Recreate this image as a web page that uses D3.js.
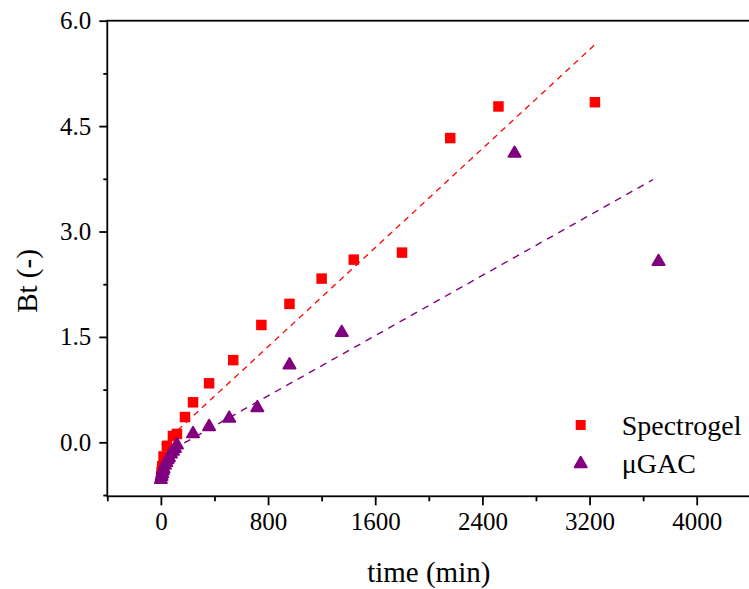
<!DOCTYPE html>
<html>
<head>
<meta charset="utf-8">
<script src="https://cdn.jsdelivr.net/npm/d3@7"></script>
<style>
  body { margin: 0; background: #fff; }
  svg { display: block; font-family: "Liberation Serif", "Times New Roman", serif; }
</style>
</head>
<body>
<div id="chart"></div>
<script>
// values
var spectroTime = [2, 5, 10, 20, 45, 90, 120, 180, 240, 360, 540, 750, 960, 1200, 1440, 1800, 2160, 2520, 3240];
var spectroBt   = [-0.48, -0.42, -0.34, -0.2, -0.05, 0.09, 0.12, 0.36, 0.57, 0.84, 1.17, 1.67, 1.97, 2.33, 2.6, 2.7, 4.33, 4.78, 4.84];

var gacTime = [0, 5, 10, 15, 20, 30, 40, 50, 60, 75, 90, 105, 120, 240, 360, 510, 720, 960, 1350, 2640, 3715];
var gacBt   = [-0.5, -0.46, -0.42, -0.38, -0.35, -0.3, -0.26, -0.22, -0.19, -0.14, -0.1, -0.06, -0.01, 0.15, 0.25, 0.37, 0.52, 1.13, 1.59, 4.14, 2.6];

// linear fits (dashed)
var fitSpectroTime = [5, 3240];
var fitSpectroBt   = [-0.04, 5.66];
var fitGacTime     = [5, 3675];
var fitGacBt       = [-0.19, 3.74];

var xMajor = [0, 800, 1600, 2400, 3200, 4000];
var xMinor = [-400, 400, 1200, 2000, 2800, 3600, 4400];
var yMajor = [0, 1.5, 3.0, 4.5, 6.0];
var yMinor = [-0.75, 0.75, 2.25, 3.75, 5.25];

var seriesNames = ["Spectrogel", "\u03bcGAC"];
var seriesColors = ["#ff0000", "#800080"];

var gW = 749, gH = 589;
var gLeft = 107.3, gRight = 750.3, gTop = 20.7, gBottom = 496.3;

var svg = d3.select("#chart").append("svg")
    .attr("width", gW)
    .attr("height", gH);

var x = d3.scaleLinear().domain([-400, 4400]).range([gLeft, gRight]);
var y = d3.scaleLinear().domain([-0.768, 6.0]).range([gBottom, gTop]);

function zip(a, b) { return a.map(function (d, i) { return [d, b[i]]; }); }

var line = d3.line()
    .x(function (d) { return x(d[0]); })
    .y(function (d) { return y(d[1]); });

// fit lines
svg.append("path")
    .datum(zip(fitSpectroTime, fitSpectroBt))
    .attr("d", line)
    .attr("fill", "none")
    .attr("stroke", seriesColors[0])
    .attr("stroke-width", 1.3)
    .attr("stroke-dasharray", "6,5");

svg.append("path")
    .datum(zip(fitGacTime, fitGacBt))
    .attr("d", line)
    .attr("fill", "none")
    .attr("stroke", seriesColors[1])
    .attr("stroke-width", 1.4)
    .attr("stroke-dasharray", "7,6");

var squareSym = d3.symbol().type(d3.symbolSquare).size(110);
var triSym    = d3.symbol().type(d3.symbolTriangle).size(62);
var triShift  = 2; // d3 centres the triangle on its centroid, Origin on its box

svg.append("g").selectAll("path")
    .data(zip(spectroTime, spectroBt))
  .enter().append("path")
    .attr("d", squareSym)
    .attr("transform", function (d) { return "translate(" + x(d[0]) + "," + y(d[1]) + ")"; })
    .attr("fill", seriesColors[0]);

svg.append("g").selectAll("path")
    .data(zip(gacTime, gacBt))
  .enter().append("path")
    .attr("d", triSym)
    .attr("transform", function (d) { return "translate(" + x(d[0]) + "," + (y(d[1]) + triShift) + ")"; })
    .attr("fill", seriesColors[1])
    .attr("stroke", seriesColors[1])
    .attr("stroke-width", 2)
    .attr("stroke-linejoin", "round");

// frame
var frame = svg.append("g").attr("stroke", "#000").attr("stroke-width", 1.8).attr("fill", "none");
frame.append("rect")
    .attr("x", gLeft).attr("y", gTop)
    .attr("width", gRight - gLeft).attr("height", gBottom - gTop);

// x axis
var xAxis = d3.axisBottom(x).tickValues(xMajor).tickSize(9).tickSizeOuter(0).tickPadding(7)
    .tickFormat(d3.format("d"));
var gx = svg.append("g")
    .attr("transform", "translate(0," + gBottom + ")")
    .call(xAxis);
gx.select(".domain").remove();
gx.selectAll("line").attr("stroke-width", 1.8);
gx.selectAll("text").attr("font-size", 25).attr("font-family", "Liberation Serif").attr("fill", "#000");

var gxMinor = svg.append("g")
    .attr("transform", "translate(0," + gBottom + ")")
    .call(d3.axisBottom(x).tickValues(xMinor).tickSize(5).tickSizeOuter(0).tickFormat(""));
gxMinor.select(".domain").remove();
gxMinor.selectAll("line").attr("stroke-width", 1.8);

// y axis
var yAxis = d3.axisLeft(y).tickValues(yMajor).tickSize(8).tickSizeOuter(0).tickPadding(8)
    .tickFormat(d3.format(".1f"));
var gy = svg.append("g")
    .attr("transform", "translate(" + gLeft + ",0)")
    .call(yAxis);
gy.select(".domain").remove();
gy.selectAll("line").attr("stroke-width", 1.8);
gy.selectAll("text").attr("font-size", 25).attr("font-family", "Liberation Serif").attr("fill", "#000");

var gyMinor = svg.append("g")
    .attr("transform", "translate(" + gLeft + ",0)")
    .call(d3.axisLeft(y).tickValues(yMinor).tickSize(4).tickSizeOuter(0).tickFormat(""));
gyMinor.select(".domain").remove();
gyMinor.selectAll("line").attr("stroke-width", 1.8);

// axis titles
svg.append("text")
    .attr("x", (gLeft + gRight) / 2)
    .attr("y", 582)
    .attr("text-anchor", "middle")
    .attr("font-size", 29)
    .text("time (min)");

svg.append("text")
    .attr("transform", "translate(37,281) rotate(-90)")
    .attr("text-anchor", "middle")
    .attr("font-size", 29)
    .text("Bt (-)");

// legend
var legend = svg.append("g");
legend.append("path")
    .attr("d", d3.symbol().type(d3.symbolSquare).size(100))
    .attr("transform", "translate(580.7,425)")
    .attr("fill", seriesColors[0]);
legend.append("path")
    .attr("d", triSym)
    .attr("transform", "translate(580.7," + (461.7 + triShift) + ")")
    .attr("fill", seriesColors[1])
    .attr("stroke", seriesColors[1])
    .attr("stroke-width", 2)
    .attr("stroke-linejoin", "round");
legend.selectAll("text")
    .data(seriesNames)
  .enter().append("text")
    .attr("x", 621.7)
    .attr("y", function (d, i) { return 435 + i * 37.7; })
    .attr("font-size", 28)
    .text(function (d) { return d; });
</script>
</body>
</html>
